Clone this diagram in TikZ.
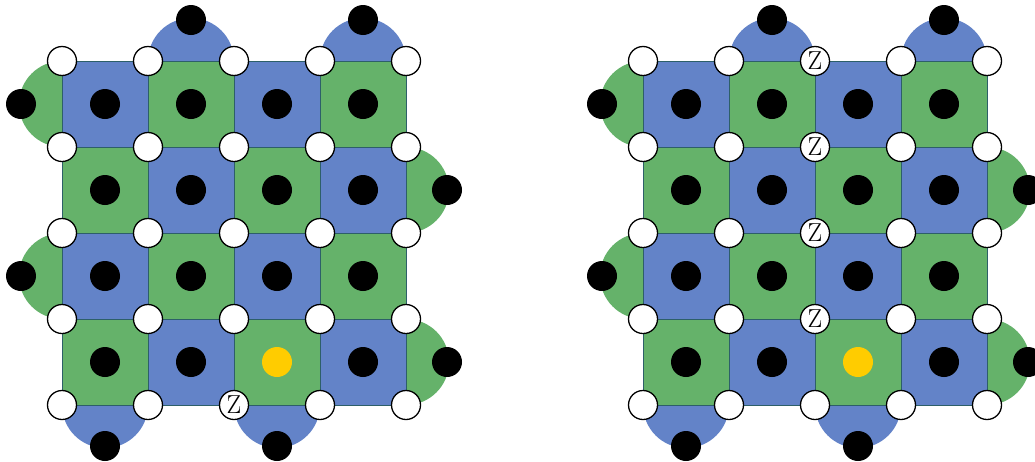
\documentclass[tikz,border=0pt]{standalone}
\usepackage{fontspec}
\definecolor{qblue}{RGB}{99,131,200}
\definecolor{qgreen}{RGB}{101,178,106}
\definecolor{qyellow}{RGB}{255,204,0}
\definecolor{qline}{RGB}{45,95,105}
\tikzset{
  dataq/.style={circle,draw=black,fill=white,line width=1.3pt,minimum size=29pt,inner sep=0pt},
  zlab/.style={inner sep=0pt,font=\fontsize{26}{26}\selectfont},
  ancq/.style={circle,fill=black,minimum size=30pt,inner sep=0pt},
  flagq/.style={circle,fill=qyellow,minimum size=30pt,inner sep=0pt},
  plaq/.style={draw=qline,line width=0.5pt},
}
\begin{document}
\begin{tikzpicture}[x=1pt,y=-1pt]
\useasboundingbox (0,0) rectangle (1035,461);
\foreach \ox/\L in {0/a,581/b}{
\begin{scope}[xshift=\ox pt]
  % boundary half-disks (drawn first, squares cover the inner half)
  \foreach \c in {1,3}{
    \fill[qblue] (62+86*\c+43,61) circle (43pt);
    \node[ancq] (t-\L-\c) at (62+86*\c+43,20) {};
  }
  \foreach \c in {0,2}{
    \fill[qblue] (62+86*\c+43,405) circle (43pt);
    \node[ancq] (b-\L-\c) at (62+86*\c+43,446) {};
  }
  \foreach \r in {0,2}{
    \fill[qgreen] (62,61+86*\r+43) circle (43pt);
    \node[ancq] (l-\L-\r) at (21,61+86*\r+43) {};
  }
  \foreach \r in {1,3}{
    \fill[qgreen] (406,61+86*\r+43) circle (43pt);
    \node[ancq] (r-\L-\r) at (447,61+86*\r+43) {};
  }
  % plaquettes
  \foreach \r in {0,...,3}{
    \foreach \c in {0,...,3}{
      \pgfmathtruncatemacro\p{mod(\r+\c,2)}
      \ifnum\p=0
        \fill[qblue] (62+86*\c,61+86*\r) rectangle ++(86,86);
      \else
        \fill[qgreen] (62+86*\c,61+86*\r) rectangle ++(86,86);
      \fi
    }
  }
  \foreach \k in {0,...,4}{
    \draw[plaq] (62+86*\k,61) -- (62+86*\k,405);
    \draw[plaq] (62,61+86*\k) -- (406,61+86*\k);
  }
  % ancilla qubits
  \foreach \r in {0,...,3}{
    \foreach \c in {0,...,3}{
      \pgfmathtruncatemacro\q{\r*4+\c}
      \ifnum\q=14
        \node[flagq] (s-\L-\c-\r) at (105+86*\c,104+86*\r) {};
      \else
        \node[ancq] (s-\L-\c-\r) at (105+86*\c,104+86*\r) {};
      \fi
    }
  }
  % data qubits
  \foreach \r in {0,...,4}{
    \foreach \c in {0,...,4}{
      \node[dataq] (d-\L-\c-\r) at (62+86*\c,61+86*\r) {};
    }
  }
\end{scope}
}
\node[zlab] (z-a-4) at (d-a-2-4) {Z};
\foreach \r in {0,...,3}{ \node[zlab] (z-b-\r) at (d-b-2-\r) {Z}; }
\end{tikzpicture}
\end{document}
